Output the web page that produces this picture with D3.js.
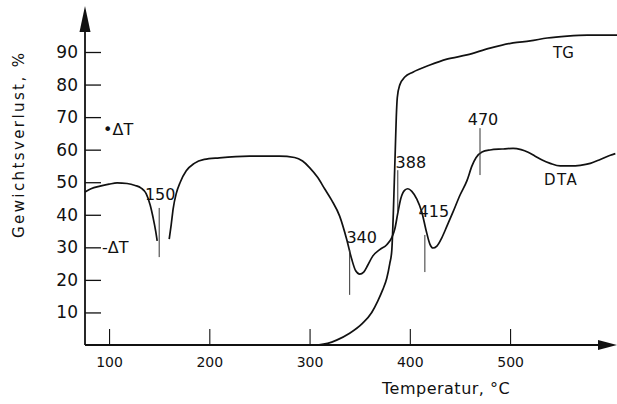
<!DOCTYPE html>
<html>
<head>
<meta charset="utf-8">
<script src="https://cdn.jsdelivr.net/npm/d3@7"></script>
<style>
  html, body { margin: 0; padding: 0; background: #fff; }
  svg { display: block; }
  text { font-family: "DejaVu Sans", sans-serif; fill: #111; }
</style>
</head>
<body>
<svg id="chart" width="617" height="404"></svg>
<script>
// Thermogravimetric (TG) and differential thermal analysis (DTA) curves
// Temperature in °C, weight loss in %

const xTicks = [100, 200, 300, 400, 500];
const yTicks = [10, 20, 30, 40, 50, 60, 70, 80, 90];

// TG: weight loss vs temperature
const tgTemp = [308, 318, 327, 340, 353, 362, 368, 373, 377, 380, 382, 383.5, 384.5, 385.5, 386.5, 387.5, 390, 395, 403, 420, 437, 457, 480, 503, 520, 537, 557, 577, 607];
const tgLoss = [0, 0.5, 1.5, 3.6, 6.7, 10, 13.5, 17, 20.5, 25, 29, 40, 50, 60, 70, 76, 79.9, 82.3, 83.8, 86, 87.8, 89.1, 91.2, 92.8, 93.4, 94.3, 94.9, 95.2, 95.2];

// DTA trace (plotted on the same vertical scale); null marks the break at 150 °C
const dtaTemp = [76, 82, 91, 100, 108, 118, 126, 132, 137, 141, 144, 146.5, 148, 154,
  160, 162, 164, 167, 171, 177, 185, 195, 210, 240, 270, 285, 293, 300, 308, 315, 322, 330, 337, 342, 346, 350, 354, 358, 363, 370, 377, 382, 385, 388, 391, 395, 398, 402, 407, 412, 416, 420, 423, 427, 432, 437, 443, 450, 457, 462, 466, 472, 480, 492, 503, 511, 518, 525, 532, 540, 550, 560, 570, 580, 590, 600, 605];
const dtaValue = [47, 48, 48.8, 49.4, 49.8, 49.6, 49, 48.2, 46.5, 43, 39, 35, 32, null,
  32.5, 37, 42, 46.5, 50, 53.5, 55.8, 57, 57.5, 58, 58, 57.6, 56.5, 54.5, 51.5, 48, 44.5, 39.6, 32.5, 26.4, 22.8, 21.8, 22.4, 24.5, 27.3, 29.3, 30.8, 33, 35.6, 40.5, 45, 47.6, 48, 47.2, 44.8, 40.8, 35.5, 31, 29.8, 30.4, 33, 36.5, 40.8, 46, 50.5, 55, 57.5, 59.3, 59.9, 60.2, 60.4, 60, 59.2, 58, 56.8, 55.8, 55, 55, 55.2, 55.8, 57, 58.3, 58.8];

// DTA peak temperatures with marker extents, label heights and label nudges (px)
const peakTemp = [150, 340, 388, 415, 470];
const peakTop = [42.1, 29.2, 53.7, 33.8, 66.6];
const peakBottom = [27.0, 15.4, 40.5, 22.4, 52.2];
const peakLabelY = [44.5, 31.3, 54.4, 39.3, 67.6];
const peakLabelDx = [1, 12, 13, 9, 3];

const svg = d3.select("#chart");

const x = d3.scaleLinear().domain([76, 587.7]).range([85, 598]);
const y = d3.scaleLinear().domain([0, 90]).range([345, 52]);

// Axes: ticks point into the plot
const yAxis = d3.axisLeft(y).tickValues(yTicks).tickSizeInner(-16).tickSizeOuter(0).tickPadding(7);
const xAxis = d3.axisBottom(x).tickValues(xTicks).tickSizeInner(-16).tickSizeOuter(0).tickPadding(12);

const gy = svg.append("g").attr("transform", `translate(${x(76)},0)`).call(yAxis);
gy.select(".domain").remove();
gy.selectAll(".tick line").attr("stroke", "#111").attr("stroke-width", 1.3);
gy.selectAll(".tick text").style("font-size", "17px").attr("fill", "#111");

const gx = svg.append("g").attr("transform", `translate(0,${y(0)})`).call(xAxis);
gx.select(".domain").remove();
gx.selectAll(".tick line").attr("stroke", "#111").attr("stroke-width", 1.1);
gx.selectAll(".tick text").style("font-size", "14px").attr("fill", "#111");

// Axis lines with arrowheads
const x0 = x(76), yBase = y(0);
svg.append("line").attr("x1", x0).attr("x2", x0).attr("y1", yBase).attr("y2", 30)
  .attr("stroke", "#111").attr("stroke-width", 1.8);
svg.append("path").attr("d", `M${x0},6 L${x0 - 5.5},32 L${x0 + 5.5},32 Z`).attr("fill", "#111");
svg.append("line").attr("x1", x0).attr("x2", 600).attr("y1", yBase).attr("y2", yBase)
  .attr("stroke", "#111").attr("stroke-width", 1.8);
svg.append("path").attr("d", `M617,${yBase} L598,${yBase - 5} L598,${yBase + 5} Z`).attr("fill", "#111");

// Curves
const tgData = tgTemp.map((t, i) => ({ t, v: tgLoss[i] }));
const dtaData = dtaTemp.map((t, i) => ({ t, v: dtaValue[i] }));

const line = d3.line()
  .defined(d => d.v !== null)
  .x(d => x(d.t))
  .y(d => y(d.v))
  .curve(d3.curveMonotoneX);

svg.append("path").datum(dtaData).attr("d", line)
  .attr("fill", "none").attr("stroke", "#111").attr("stroke-width", 1.7).attr("stroke-linejoin", "round");
svg.append("path").datum(tgData).attr("d", line)
  .attr("fill", "none").attr("stroke", "#111").attr("stroke-width", 1.7).attr("stroke-linejoin", "round");

// Peak markers and labels
const peaks = peakTemp.map((t, i) => ({ t, top: peakTop[i], bottom: peakBottom[i], ly: peakLabelY[i], dx: peakLabelDx[i] }));
svg.append("g").selectAll("line").data(peaks).join("line")
  .attr("x1", d => x(d.t)).attr("x2", d => x(d.t))
  .attr("y1", d => y(d.top)).attr("y2", d => y(d.bottom))
  .attr("stroke", "#333").attr("stroke-width", 1);
svg.append("g").selectAll("text").data(peaks).join("text")
  .attr("x", d => x(d.t) + d.dx).attr("y", d => y(d.ly))
  .attr("text-anchor", "middle").style("font-size", "16px")
  .text(d => d.t);

// Curve names and ΔT direction marks
svg.append("text").attr("x", 553).attr("y", 58).style("font-size", "15px").text("TG");
svg.append("text").attr("x", 544).attr("y", 185).style("font-size", "15px")
  .style("letter-spacing", "1.5px").text("DTA");
svg.append("text").attr("x", 103).attr("y", 135).style("font-size", "16px").text("•ΔT");
svg.append("text").attr("x", 102).attr("y", 253).style("font-size", "16px").text("-ΔT");

// Axis titles
svg.append("text").attr("x", 382).attr("y", 394).style("font-size", "16px")
  .style("letter-spacing", "0.5px").text("Temperatur, °C");
svg.append("text").attr("transform", "translate(24,238) rotate(-90)")
  .style("font-size", "15px").style("letter-spacing", "2.4px")
  .text("Gewichtsverlust, %");
</script>
</body>
</html>
